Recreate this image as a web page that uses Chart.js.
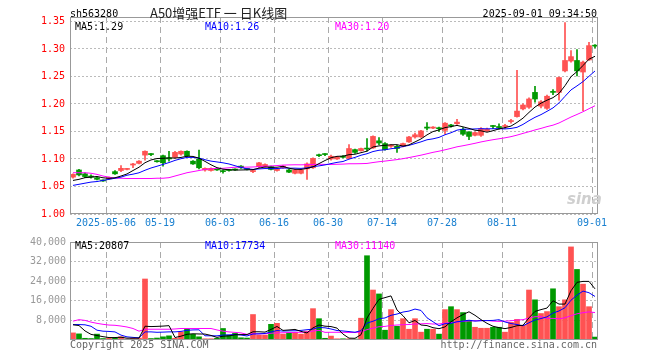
<!DOCTYPE html>
<html>
<head>
<meta charset="utf-8">
<title>A50增强ETF 日K线图</title>
<script src="https://cdn.jsdelivr.net/npm/chart.js@4.4.1/dist/chart.umd.min.js"></script>
<style>
body{margin:0;background:#fff;}
#wrap{position:relative;width:660px;height:360px;overflow:hidden;font-family:'DejaVu Sans Mono',monospace;font-size:10px;line-height:12px;}
#wrap canvas{position:absolute;left:0;}
.t{position:absolute;white-space:pre;}
</style>
</head>
<body>
<div id="wrap">
  <canvas id="canvasK" width="660" height="232" style="top:2px"></canvas>
  <canvas id="canvasV" width="660" height="128" style="top:232px"></canvas>

  <!-- 상단 타이틀 -->
  <div class="t" style="left:70px;top:8px;color:#000">sh563280</div>
  <div class="t" style="left:150px;top:5px;font-family:'Noto Sans CJK SC',sans-serif;font-size:13px;line-height:16px;color:#222">A50增强ETF 一 日K线图</div>
  <div class="t" style="right:63px;top:8px;color:#000">2025-09-01 09:34:50</div>

  <!-- 가격 MA 범례 -->
  <div class="t" style="left:75px;top:21px;color:#000">MA5:1.29</div>
  <div class="t" style="left:205px;top:21px;color:#0000ff">MA10:1.26</div>
  <div class="t" style="left:335px;top:21px;color:#ff00ff">MA30:1.20</div>

  <!-- 거래량 MA 범례 -->
  <div class="t" style="left:75px;top:240px;color:#000">MA5:20807</div>
  <div class="t" style="left:205px;top:240px;color:#0000ff">MA10:17734</div>
  <div class="t" style="left:335px;top:240px;color:#ff00ff">MA30:11140</div>

  <div class="t" style="left:567px;top:191px;font-family:'DejaVu Sans',sans-serif;font-style:italic;font-weight:bold;font-size:15px;line-height:16px;color:#cfcfcf">sina</div>

  <!-- 하단 -->
  <div class="t" style="left:70px;top:339px;color:#666">Copyright 2025 SINA.COM</div>
  <div class="t" style="right:63px;top:339px;color:#666">http://finance.sina.com.cn</div>
</div>

<script>
//날짜 (카테고리)
var dates = [
  '2025-04-23','2025-04-24','2025-04-25','2025-04-28','2025-04-29','2025-04-30',
  '2025-05-06','2025-05-07','2025-05-08','2025-05-09','2025-05-12','2025-05-13','2025-05-14','2025-05-15','2025-05-16',
  '2025-05-19','2025-05-20','2025-05-21','2025-05-22','2025-05-23','2025-05-26','2025-05-27','2025-05-28','2025-05-29','2025-05-30',
  '2025-06-03','2025-06-04','2025-06-05','2025-06-06','2025-06-09','2025-06-10','2025-06-11','2025-06-12','2025-06-13',
  '2025-06-16','2025-06-17','2025-06-18','2025-06-19','2025-06-20','2025-06-23','2025-06-24','2025-06-25','2025-06-26',
  '2025-06-30','2025-07-01','2025-07-02','2025-07-03','2025-07-04','2025-07-07','2025-07-08','2025-07-09','2025-07-10',
  '2025-07-14','2025-07-15','2025-07-16','2025-07-17','2025-07-18','2025-07-21','2025-07-22','2025-07-23','2025-07-24','2025-07-25',
  '2025-07-28','2025-07-29','2025-07-30','2025-07-31','2025-08-01','2025-08-04','2025-08-05','2025-08-06','2025-08-07','2025-08-08',
  '2025-08-11','2025-08-12','2025-08-13','2025-08-14','2025-08-15','2025-08-18','2025-08-19','2025-08-20','2025-08-21','2025-08-22',
  '2025-08-25','2025-08-26','2025-08-27','2025-08-28','2025-08-29',
  '2025-09-01'
];
//x축 표시 날짜
var tickDates  = ['2025-05-06','2025-05-19','2025-06-03','2025-06-16','2025-06-30','2025-07-14','2025-07-28','2025-08-11','2025-09-01'];
var tickLabels = ['2025-05-06','05-19','06-03','06-16','06-30','07-14','07-28','08-11','09-01'];

//시가 고가 저가 종가
var openP = [
  1.067,1.080,1.073,1.069,1.066,1.061,1.064,1.077,1.079,1.081,
  1.089,1.092,1.107,1.109,1.096,1.106,1.102,1.103,1.109,1.114,
  1.096,1.100,1.080,1.079,1.081,1.078,1.080,1.081,1.087,1.082,
  1.077,1.086,1.086,1.086,1.079,1.084,1.080,1.074,1.074,1.082,
  1.084,1.107,1.109,1.100,1.100,1.104,1.101,1.117,1.115,1.119,
  1.120,1.133,1.128,1.123,1.123,1.123,1.131,1.140,1.140,1.158,
  1.156,1.156,1.152,1.161,1.164,1.154,1.149,1.143,1.143,1.151,
  1.160,1.159,1.159,1.168,1.177,1.191,1.194,1.221,1.196,1.192,
  1.222,1.221,1.260,1.278,1.279,1.258,1.280,1.306
];
var highP = [
  1.073,1.081,1.075,1.071,1.067,1.062,1.067,1.079,1.088,1.083,
  1.092,1.097,1.115,1.110,1.097,1.107,1.114,1.114,1.115,1.115,
  1.097,1.116,1.084,1.084,1.082,1.080,1.081,1.082,1.088,1.083,
  1.080,1.094,1.091,1.087,1.083,1.088,1.081,1.081,1.081,1.093,
  1.102,1.109,1.110,1.107,1.105,1.106,1.126,1.118,1.120,1.137,
  1.142,1.139,1.130,1.126,1.125,1.129,1.141,1.147,1.152,1.166,
  1.159,1.158,1.166,1.163,1.172,1.157,1.150,1.149,1.157,1.156,
  1.161,1.164,1.163,1.172,1.261,1.200,1.211,1.232,1.206,1.216,
  1.226,1.249,1.348,1.297,1.299,1.278,1.312,1.308
];
var lowP = [
  1.065,1.069,1.066,1.065,1.062,1.059,1.063,1.072,1.077,1.080,
  1.084,1.091,1.098,1.106,1.094,1.087,1.096,1.102,1.107,1.104,
  1.090,1.082,1.078,1.078,1.079,1.074,1.078,1.079,1.083,1.080,
  1.075,1.084,1.085,1.080,1.078,1.083,1.075,1.073,1.073,1.063,
  1.083,1.104,1.106,1.098,1.099,1.102,1.100,1.110,1.114,1.114,
  1.119,1.126,1.116,1.121,1.112,1.122,1.130,1.138,1.139,1.153,
  1.155,1.150,1.145,1.158,1.163,1.143,1.135,1.142,1.141,1.150,
  1.155,1.154,1.155,1.165,1.176,1.189,1.192,1.203,1.193,1.190,
  1.217,1.207,1.258,1.276,1.251,1.188,1.279,1.302
];
var closeP = [
  1.072,1.071,1.068,1.067,1.063,1.060,1.066,1.073,1.083,1.082,
  1.091,1.096,1.114,1.108,1.095,1.093,1.100,1.112,1.114,1.106,
  1.091,1.084,1.083,1.083,1.080,1.077,1.079,1.080,1.084,1.081,
  1.079,1.093,1.090,1.081,1.082,1.087,1.076,1.080,1.080,1.091,
  1.101,1.106,1.108,1.105,1.104,1.103,1.119,1.112,1.119,1.118,
  1.141,1.129,1.117,1.124,1.119,1.128,1.140,1.144,1.151,1.156,
  1.158,1.155,1.165,1.160,1.167,1.145,1.141,1.148,1.155,1.154,
  1.159,1.157,1.160,1.169,1.187,1.198,1.209,1.209,1.204,1.214,
  1.221,1.248,1.279,1.286,1.260,1.276,1.306,1.305
];
//거래량
var volume = [
  2900,2500,700,600,2400,600,700,700,1300,400,
  700,800,24900,600,800,1300,1700,700,3300,4700,
  2300,1300,500,500,700,4700,2000,2700,900,800,
  10400,2000,2000,6400,6800,2400,2900,3100,2400,3600,
  12800,8700,700,1600,500,500,500,400,8900,34400,
  20400,18800,4000,12400,5600,8700,4400,8700,3200,4400,
  4400,2400,12400,13600,12400,11200,8000,5200,4800,4800,
  5200,5200,3200,7200,8400,6000,20400,16400,10800,11600,
  20900,13600,16400,38000,28800,22800,13600,1200
];

//이평선 앞부분 (화면 이전 데이터 필요한 구간, 그림에서 읽은 값)
var ma5Head  = [1.061,1.063,1.066,1.067];
var ma10Head = [1.052,1.054,1.056,1.058,1.059,1.061,1.063,1.065,1.067];
var ma30Head = [1.075,1.075,1.075,1.074,1.072,1.069,1.067,1.065,1.065,1.0645,
                1.0645,1.0645,1.0645,1.0645,1.065,1.065,1.066,1.069,1.072,1.075,
                1.077,1.079,1.081,1.082,1.083,1.083,1.084,1.085,1.085];
var vma5Head  = [6200,5900,3700,2300];
var vma10Head = [6300,6300,6200,5600,4000,3600,3500,3300,2000];
var vma30Head = [7700,8300,8000,7300,6800,6400,6100,6000,5700,5300,
                 4700,3600,4400,4400,4400,4400,4400,4500,4700,4700,
                 4700,4700,4700,4700,4100,3600,3300,3100,2900];

//y축 눈금
var priceTicks = [1.00,1.05,1.10,1.15,1.20,1.25,1.30,1.35];
var volTicks = [8000,16000,24000,32000,40000];

var upColor = '#ff5252';
var downColor = '#009900';
var monoFont = {family:'DejaVu Sans Mono', size:10};

//이동평균
function movingAvg(vals, n, head){
  return vals.map(function(v, i){
    if(i < n - 1) return head[i];
    var s = 0;
    for(var k = i - n + 1; k <= i; k++) s += vals[k];
    return s / n;
  });
}

var tickIdx = tickDates.map(function(d){ return dates.indexOf(d); });
var barColors = dates.map(function(d, i){ return closeP[i] >= openP[i] ? upColor : downColor; });

//차트 테두리
var framePlugin = {
  id: 'frame',
  afterDraw: function(chart){
    var a = chart.chartArea, c = chart.ctx;
    c.save();
    c.strokeStyle = '#999';
    c.lineWidth = 1;
    c.strokeRect(a.left + 0.5, a.top + 0.5, a.right - a.left - 1, a.bottom - a.top - 1);
    c.restore();
  }
};

function xAxis(showLabels){
  return {
    offset: true,
    afterFit: function(ax){ ax.height = 20; },
    ticks: {
      display: showLabels,
      autoSkip: false,
      maxRotation: 0,
      minRotation: 0,
      padding: 3,
      labelOffset: -3,
      color: '#1a80d0',
      font: monoFont,
      callback: function(v, i){
        var k = tickIdx.indexOf(i);
        return k >= 0 ? tickLabels[k] : '';
      }
    },
    grid: {
      offset: true,
      drawTicks: false,
      lineWidth: 1,
      color: function(ctx){ return tickIdx.indexOf(ctx.index) >= 0 ? '#aaa' : 'rgba(0,0,0,0)'; }
    },
    border: {display: false, dash: [6, 4]}
  };
}

function lineSet(data, color){
  return {type:'line', data:data, borderColor:color, borderWidth:1, pointRadius:0, tension:0, order:0};
}

//K선 챠트
function K_INIT(){
  var ctx = document.getElementById('canvasK').getContext('2d');
  window.chartK = new Chart(ctx, {
    type: 'bar',
    data: {
      labels: dates,
      datasets: [
        lineSet(movingAvg(closeP, 5, ma5Head), '#000000'),
        lineSet(movingAvg(closeP, 10, ma10Head), '#0000ff'),
        lineSet(movingAvg(closeP, 30, ma30Head), '#ff00ff'),
        { //몸통
          data: dates.map(function(d, i){ return [openP[i], closeP[i]]; }),
          backgroundColor: barColors, barThickness: 5, minBarLength: 1, grouped: false, order: 1
        },
        { //꼬리
          data: dates.map(function(d, i){ return [lowP[i], highP[i]]; }),
          backgroundColor: barColors, barThickness: 1, minBarLength: 1, grouped: false, order: 2
        }
      ]
    },
    options: {
      responsive: false,
      animation: false,
      layout: {padding: {top: 15, right: 62, left: 0, bottom: 0}},
      plugins: {legend: {display: false}, tooltip: {enabled: false}},
      scales: {
        x: xAxis(true),
        y: {
          min: 1.0,
          max: 1.358,
          afterBuildTicks: function(ax){ ax.ticks = priceTicks.map(function(v){ return {value: v}; }); },
          afterFit: function(ax){ ax.width = 70; },
          ticks: {color: '#ff0000', font: monoFont, padding: 5, callback: function(v){ return v.toFixed(2); }},
          grid: {color: '#bbb', drawTicks: false},
          border: {display: false, dash: [2, 2]}
        }
      }
    },
    plugins: [framePlugin]
  });
}

//거래량 챠트
function V_INIT(){
  var ctx = document.getElementById('canvasV').getContext('2d');
  window.chartV = new Chart(ctx, {
    type: 'bar',
    data: {
      labels: dates,
      datasets: [
        lineSet(movingAvg(volume, 5, vma5Head), '#000000'),
        lineSet(movingAvg(volume, 10, vma10Head), '#0000ff'),
        lineSet(movingAvg(volume, 30, vma30Head), '#ff00ff'),
        {data: volume, backgroundColor: barColors, barThickness: 5, grouped: false, order: 1}
      ]
    },
    options: {
      responsive: false,
      animation: false,
      layout: {padding: {top: 8, right: 62, left: 0, bottom: 0}},
      plugins: {legend: {display: false}, tooltip: {enabled: false}},
      scales: {
        x: xAxis(false),
        y: {
          min: 0,
          max: 40000,
          afterBuildTicks: function(ax){ ax.ticks = volTicks.map(function(v){ return {value: v}; }); },
          afterFit: function(ax){ ax.width = 70; },
          ticks: {color: '#999', font: monoFont, padding: 4},
          grid: {color: '#bbb', drawTicks: false},
          border: {display: false, dash: [2, 2]}
        }
      }
    },
    plugins: [framePlugin]
  });
}

K_INIT();
V_INIT();
</script>
</body>
</html>
